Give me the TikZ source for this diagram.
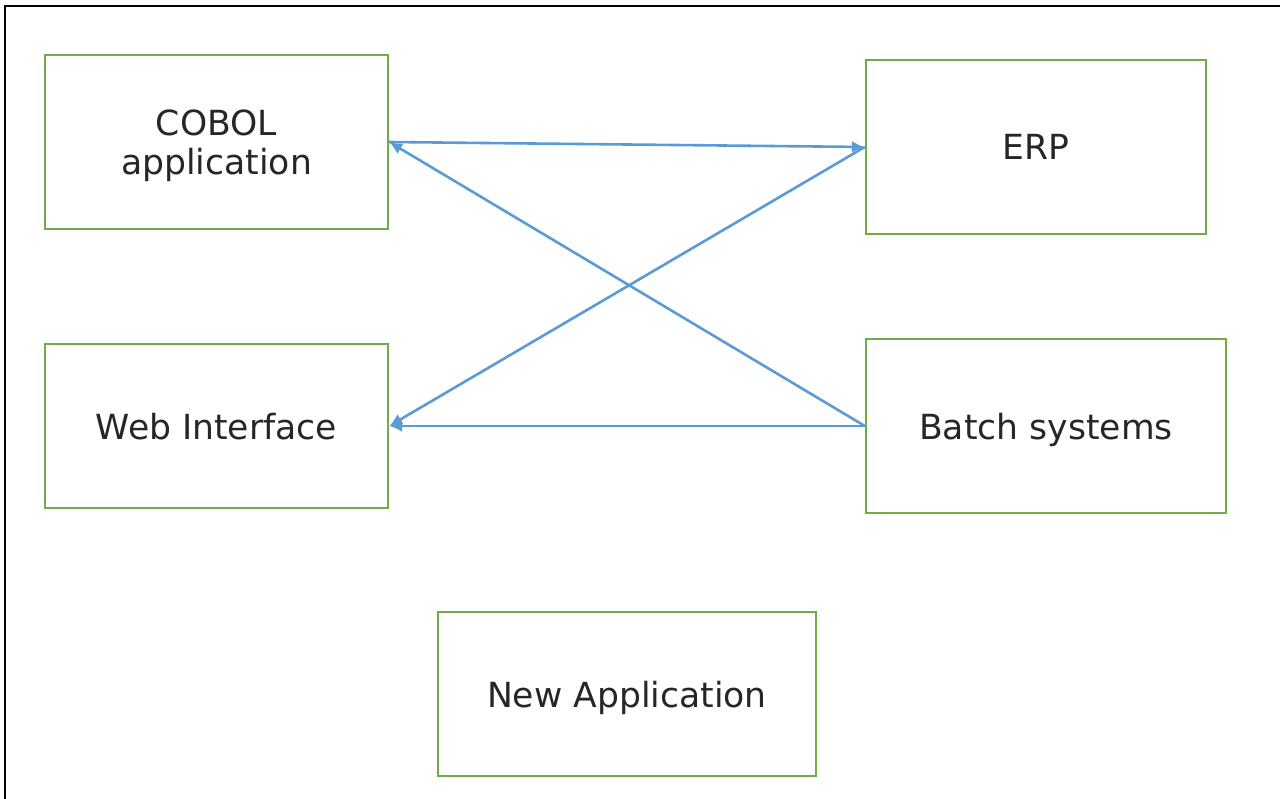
\documentclass[tikz,border=0pt]{standalone}
\usepackage{fontspec}
\setmainfont{DejaVu Sans}
\usetikzlibrary{arrows.meta}
\definecolor{boxgreen}{RGB}{112,173,71}
\definecolor{linkblue}{RGB}{91,155,213}
\begin{document}
\begin{tikzpicture}[x=1pt,y=-1pt,
  sysbox/.style={draw=boxgreen,line width=2.4pt,fill=white,inner sep=0pt,
    align=center,text depth=0pt,font=\fontsize{34.6}{39}\selectfont,text=black!85},
  link/.style={draw=linkblue,line width=2.6pt,-{Latex[length=13pt,width=12pt]}}]
  \useasboundingbox (0,0) rectangle (1280,799);
  % page frame (top and left edges)
  \draw[line width=2.5pt] (5,799) -- (5,6) -- (1280,6);
  % systems
  \node[sysbox,minimum width=343,minimum height=174] (cobol) at (216.5,142) {COBOL\\application};
  \node[sysbox,minimum width=340,minimum height=174] (erp) at (1036,147) {ERP};
  \node[sysbox,minimum width=343,minimum height=164] (web) at (216.5,426) {Web Interface};
  \node[sysbox,minimum width=360,minimum height=174] (batch) at (1046,426) {Batch systems};
  \node[sysbox,minimum width=378,minimum height=164] (new) at (627,694) {New Application};
  % interfaces between systems
  \draw[link] (cobol.east) -- (erp.west);
  \draw[link] (batch.west) -- (cobol.east);
  \draw[link] (erp.west) -- (web.east);
  \draw[link] (batch.west) -- (web.east);
\end{tikzpicture}
\end{document}
